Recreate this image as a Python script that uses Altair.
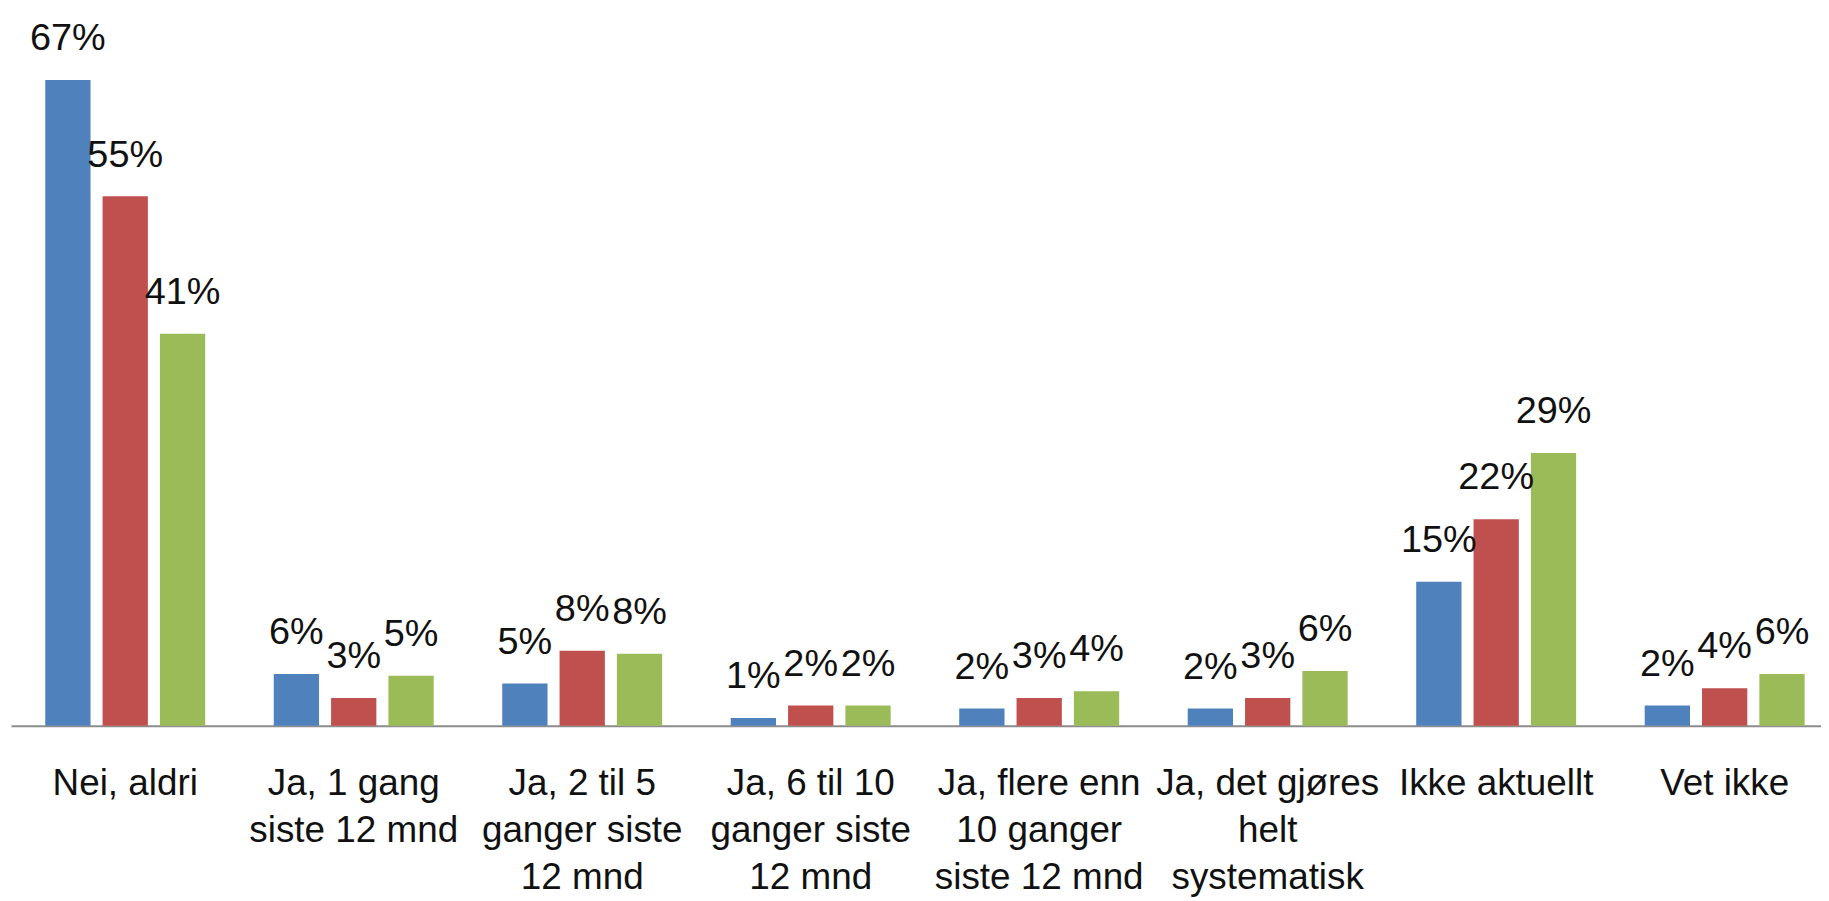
import altair as alt
import pandas as pd

categories = [
    "Nei, aldri",
    "Ja, 1 gang|siste 12 mnd",
    "Ja, 2 til 5|ganger siste|12 mnd",
    "Ja, 6 til 10|ganger siste|12 mnd",
    "Ja, flere enn|10 ganger|siste 12 mnd",
    "Ja, det gjøres|helt|systematisk",
    "Ikke aktuellt",
    "Vet ikke",
]
series = ["Serie 1", "Serie 2", "Serie 3"]
colors = ["#4F81BD", "#C0504D", "#9BBB59"]

values_1 = [67.2, 5.4, 4.4, 0.8, 1.8, 1.8, 15.0, 2.1]
values_2 = [55.1, 2.9, 7.8, 2.1, 2.9, 2.9, 21.5, 3.9]
values_3 = [40.8, 5.2, 7.5, 2.1, 3.6, 5.7, 28.4, 5.4]

labels_1 = ["67%", "6%", "5%", "1%", "2%", "2%", "15%", "2%"]
labels_2 = ["55%", "3%", "8%", "2%", "3%", "3%", "22%", "4%"]
labels_3 = ["41%", "5%", "8%", "2%", "4%", "6%", "29%", "6%"]

rows = []
for s, vals, labs in zip(series, [values_1, values_2, values_3], [labels_1, labels_2, labels_3]):
    for c, v, l in zip(categories, vals, labs):
        rows.append({"kategori": c, "serie": s, "verdi": v, "etikett": l})
df = pd.DataFrame(rows)

FONT = "Liberation Sans"

x_enc = alt.X(
    "kategori:N",
    sort=categories,
    scale=alt.Scale(paddingInner=0.3, paddingOuter=0.15, range=[0, 1836]),
    axis=alt.Axis(
        title=None,
        labelAngle=0,
        ticks=False,
        domainColor="#8c8c8c",
        domainWidth=2,
        labelFont=FONT,
        labelFontSize=37,
        labelColor="#111111",
        labelPadding=40,
        labelLineHeight=47,
        labelLimit=0,
        labelOverlap=False,
        labelBound=False,
        labelExpr="split(datum.label, '|')",
    ),
)
xo_enc = alt.XOffset("serie:N", sort=series, scale=alt.Scale(paddingInner=0.21, paddingOuter=0))
y_enc = alt.Y("verdi:Q", scale=alt.Scale(domain=[0, 74.5], nice=False, zero=True), axis=None)

bars = alt.Chart(df).mark_bar().encode(
    x=x_enc,
    xOffset=xo_enc,
    y=y_enc,
    color=alt.Color("serie:N", sort=series, scale=alt.Scale(domain=series, range=colors), legend=None),
)

text = alt.Chart(df).mark_text(
    baseline="alphabetic", align="center", dy=-30, font=FONT, fontSize=38, color="#111111"
).encode(
    x=x_enc,
    xOffset=xo_enc,
    y=y_enc,
    text="etikett:N",
)

chart = (
    alt.layer(bars, text)
    .properties(
        width=1818,
        height=719,
        autosize=alt.AutoSizeParams(type="none"),
        padding={"left": 3, "top": 0, "right": 0, "bottom": 174},
        background="white",
    )
    .configure_view(stroke=None)
)

chart.save("out.html", embed_options={"renderer": "svg", "actions": False})
